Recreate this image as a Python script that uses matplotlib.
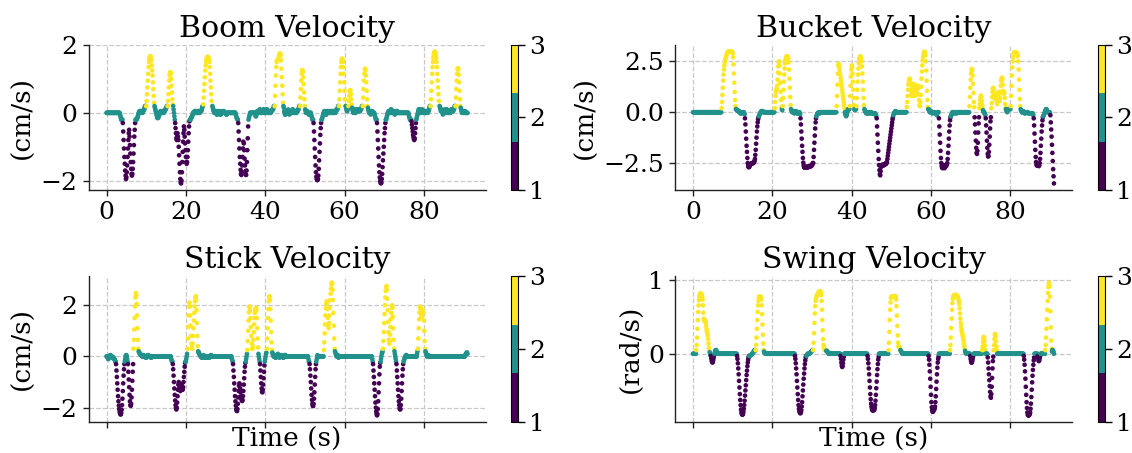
import numpy as np
import matplotlib
matplotlib.use("Agg")
import matplotlib.pyplot as plt

plt.rcParams['font.family'] = ['DejaVu Serif']

N_SAMPLES = 911          # 0.0 .. 91.0 s
DT = 0.1
time_s = np.round(np.arange(N_SAMPLES) * DT, 1)

# ---------------- Boom velocity (cm/s) ----------------
boom_start = [3.4, 4.1, 7.3, 10.0, 12.1, 15.4, 16.8, 17.3, 21.0, 24.4, 26.7, 32.6, 33.2, 35.8,
              37.5, 42.4, 44.6, 48.8, 50.1, 51.6, 52.2, 54.2, 58.6, 60.3, 61.0, 61.9, 64.6, 65.9,
              67.6, 68.2, 70.4, 76.2, 76.9, 78.1, 81.7, 84.0, 88.0, 89.3]
boom_class = [2, 1, 2, 3, 2, 3, 2, 1, 2, 3, 2, 2, 1, 2,
              2, 3, 2, 3, 2, 2, 1, 2, 3, 2, 3, 2, 3, 2,
              2, 1, 2, 2, 1, 2, 3, 2, 3, 2]
boom_vals = [
    [-0.05, -0.1, -0.15, -0.2, -0.2, -0.2, -0.2],
    [-0.3, -0.55, -0.8, -1.05, -1.3, -1.5, -1.7, -1.85, -1.95, -1.9, -1.75, -1.55, -1.3, -1.05, -0.8, -0.6,
     -0.5, -0.7, -0.95, -1.2, -1.45, -1.65, -1.8, -1.85, -1.8, -1.65, -1.45, -1.2, -0.95, -0.7, -0.5, -0.3],
    [-0.2, -0.2, -0.2, -0.2, -0.15, -0.15, -0.1, -0.05, 0.0, 0.0, 0.05, 0.05, 0.05, 0.0, 0.0, 0.05, 0.05,
     0.05, 0.0, 0.05, 0.05, 0.1, 0.1, 0.15, 0.2, 0.2, 0.2],
    [0.2, 0.35, 0.55, 0.75, 0.95, 1.15, 1.35, 1.5, 1.6, 1.65, 1.67, 1.67, 1.65, 1.55, 1.4, 1.25, 1.1, 0.9,
     0.7, 0.5, 0.3],
    [0.2, 0.15, 0.1, 0.05, 0.0, -0.05, -0.1, -0.15, -0.15, -0.15, -0.1, -0.1, -0.05, 0.0, 0.0, 0.05, 0.05,
     0.0, 0.0, 0.0, 0.05, 0.05, 0.0, 0.0, 0.05, 0.05, 0.05, 0.1, 0.1, 0.15, 0.15, 0.2, 0.2],
    [0.2, 0.35, 0.55, 0.75, 0.95, 1.1, 1.18, 1.2, 1.15, 1.0, 0.8, 0.6, 0.4, 0.25],
    [0.2, 0.1, 0.0, -0.1, -0.2],
    [-0.3, -0.45, -0.6, -0.75, -0.8, -0.7, -0.6, -0.7, -0.8, -1.0, -1.25, -1.5, -1.75, -1.95, -2.05, -2.08,
     -2.0, -1.75, -1.45, -1.15, -0.85, -0.6, -0.4, -0.5, -0.7, -0.9, -1.1, -1.3, -1.45, -1.5, -1.45, -1.3,
     -1.1, -0.85, -0.6, -0.4, -0.25],
    [-0.2, -0.2, -0.2, -0.15, -0.15, -0.1, -0.1, -0.05, 0.0, 0.0, 0.0, 0.0, 0.05, 0.05, 0.05, 0.0, 0.0,
     0.05, 0.05, 0.0, 0.0, 0.05, 0.05, 0.05, 0.0, 0.0, 0.05, 0.05, 0.05, 0.05, 0.1, 0.15, 0.2, 0.2],
    [0.25, 0.45, 0.65, 0.85, 1.05, 1.25, 1.4, 1.5, 1.58, 1.62, 1.65, 1.65, 1.64, 1.62, 1.58, 1.5, 1.35,
     1.15, 0.95, 0.75, 0.55, 0.35, 0.2],
    [0.2, 0.15, 0.1, 0.05, 0.05, 0.0, 0.0, 0.05, 0.05, 0.05, 0.0, -0.05, -0.05, 0.0, 0.0, 0.0, 0.05, 0.05,
     0.0, 0.0, -0.05, -0.05, 0.0, 0.0, 0.05, 0.0, 0.0, 0.0, 0.05, 0.05, 0.0, 0.0, 0.0, 0.0, 0.0, -0.05,
     -0.05, 0.0, 0.0],
    [-0.05, -0.1, -0.15, -0.15, -0.2, -0.2],
    [-0.3, -0.55, -0.8, -1.05, -1.3, -1.5, -1.68, -1.8, -1.83, -1.75, -1.55, -1.3, -1.05, -0.85, -0.9, -1.1,
     -1.35, -1.55, -1.72, -1.82, -1.83, -1.7, -1.45, -1.1, -0.75, -0.4],
    [-0.2, -0.15, -0.1, -0.05, 0.0],
    [-0.05, -0.1, -0.1, -0.05, 0.0, 0.05, 0.05, 0.05, 0.0, 0.0, 0.05, 0.1, 0.1, 0.05, 0.0, 0.0, 0.0, 0.05,
     0.05, 0.05, 0.1, 0.1, 0.05, 0.0, 0.0, 0.0, 0.0, 0.05, 0.05, 0.1, 0.1, 0.05, 0.05, 0.0, 0.0, 0.05,
     0.05, 0.05, 0.0, 0.0, 0.05, 0.05, 0.05, 0.1, 0.1, 0.1, 0.15, 0.2, 0.2],
    [0.2, 0.5, 0.8, 1.1, 1.35, 1.5, 1.55, 1.55, 1.55, 1.58, 1.62, 1.68, 1.72, 1.75, 1.75, 1.7, 1.55, 1.3,
     1.05, 0.8, 0.55, 0.3],
    [0.2, 0.15, 0.05, 0.0, -0.05, -0.05, 0.0, 0.05, 0.05, 0.0, 0.0, 0.05, 0.1, 0.05, 0.0, -0.05, 0.0, 0.05,
     0.05, 0.05, 0.0, 0.0, 0.05, 0.1, 0.1, 0.05, 0.05, 0.0, 0.0, 0.05, 0.05, 0.05, 0.0, 0.0, 0.05, 0.05,
     0.05, 0.1, 0.1, 0.15, 0.2, 0.2],
    [0.2, 0.45, 0.7, 0.95, 1.15, 1.25, 1.26, 1.2, 1.05, 0.85, 0.6, 0.4, 0.2],
    [0.1, 0.05, 0.0, 0.0, 0.05, 0.05, 0.0, 0.0, 0.0, -0.05, -0.05, 0.0, 0.0, 0.0, 0.0],
    [-0.05, -0.1, -0.15, -0.2, -0.2, -0.2],
    [-0.3, -0.55, -0.8, -1.05, -1.3, -1.55, -1.75, -1.88, -1.95, -1.98, -1.98, -1.95, -1.85, -1.65, -1.4,
     -1.15, -0.9, -0.65, -0.45, -0.3],
    [-0.2, -0.2, -0.15, -0.1, -0.05, 0.0, 0.0, 0.05, 0.05, 0.0, 0.0, -0.05, -0.05, 0.0, 0.0, 0.05, 0.05,
     0.05, 0.0, 0.0, 0.0, 0.05, 0.05, 0.05, 0.0, 0.0, 0.05, 0.05, 0.0, 0.0, 0.0, 0.05, 0.05, 0.05, 0.0,
     0.0, 0.05, 0.05, 0.1, 0.1, 0.1, 0.15, 0.2, 0.2],
    [0.2, 0.4, 0.65, 0.9, 1.15, 1.35, 1.5, 1.58, 1.6, 1.58, 1.5, 1.35, 1.15, 0.9, 0.65, 0.4, 0.2],
    [0.2, 0.15, 0.1, 0.05, 0.05, 0.1, 0.15],
    [0.2, 0.35, 0.5, 0.62, 0.67, 0.65, 0.55, 0.4, 0.25],
    [0.15, 0.1, 0.05, 0.0, 0.05, 0.1, 0.1, 0.05, 0.0, 0.0, 0.05, 0.1, 0.1, 0.05, 0.05, 0.05, 0.1, 0.1,
     0.05, 0.05, 0.05, 0.1, 0.1, 0.1, 0.15, 0.2, 0.2],
    [0.2, 0.45, 0.7, 0.95, 1.15, 1.28, 1.3, 1.25, 1.1, 0.9, 0.65, 0.4, 0.2],
    [0.15, 0.1, 0.05, 0.0, 0.0, 0.05, 0.0, -0.05, 0.0, 0.0, 0.05, 0.05, 0.0, 0.0, 0.0, 0.0, 0.0],
    [-0.05, -0.1, -0.15, -0.2, -0.2, -0.2],
    [-0.3, -0.55, -0.8, -1.05, -1.3, -1.55, -1.75, -1.9, -2.0, -2.06, -2.08, -2.05, -1.95, -1.8, -1.6,
     -1.4, -1.2, -1.0, -0.8, -0.6, -0.45, -0.3],
    [-0.2, -0.2, -0.15, -0.1, -0.05, 0.0, 0.0, 0.05, 0.05, 0.0, 0.0, 0.0, 0.05, 0.1, 0.1, 0.05, 0.0, 0.0,
     0.0, 0.05, 0.05, 0.0, 0.0, -0.05, 0.0, 0.0, 0.0, 0.05, 0.05, 0.05, 0.0, 0.0, 0.0, 0.0, 0.0, 0.0],
    [-0.05, -0.1, -0.15, -0.2, -0.2, -0.2, -0.2],
    [-0.25, -0.35, -0.45, -0.55, -0.65, -0.72, -0.78, -0.8, -0.75, -0.6, -0.45, -0.3],
    [-0.2, -0.15, -0.1, -0.05, 0.0, 0.05, 0.1, 0.1, 0.1, 0.05, 0.0, 0.0, 0.05, 0.05, 0.1, 0.1, 0.05,
     0.05, 0.0, 0.0, 0.05, 0.05, 0.05, 0.0, 0.0, 0.05, 0.05, 0.05, 0.0, 0.0, 0.05, 0.05, 0.1, 0.15, 0.2,
     0.2],
    [0.2, 0.4, 0.65, 0.9, 1.15, 1.35, 1.5, 1.62, 1.7, 1.76, 1.8, 1.8, 1.78, 1.72, 1.62, 1.5, 1.35, 1.15,
     0.95, 0.75, 0.55, 0.35, 0.2],
    [0.2, 0.15, 0.1, 0.05, 0.05, 0.1, 0.05, 0.0, -0.05, 0.0, 0.05, 0.05, 0.1, 0.05, 0.0, 0.0, 0.05, 0.1,
     0.1, 0.05, 0.05, 0.0, 0.0, 0.05, 0.05, 0.05, 0.0, 0.0, 0.05, 0.1, 0.1, 0.05, 0.05, 0.05, 0.05, 0.1,
     0.1, 0.15, 0.2, 0.2],
    [0.2, 0.45, 0.7, 0.95, 1.15, 1.28, 1.32, 1.28, 1.12, 0.9, 0.65, 0.4, 0.2],
    [0.15, 0.1, 0.05, 0.0, 0.0, 0.05, 0.05, 0.0, 0.0, 0.0, 0.05, 0.05, 0.0, 0.0, 0.0, 0.0, 0.0, 0.0],
]

# ---------------- Bucket velocity (cm/s) ----------------
bucket_start = [7.2, 10.8, 13.1, 16.6, 20.6, 22.4, 22.6, 24.7, 27.1, 31.1, 36.2, 38.3, 39.5, 40.7,
                41.2, 43.2, 46.3, 50.5, 53.9, 59.3, 62.0, 65.0, 69.7, 71.0, 72.2, 73.1, 73.8, 75.2,
                78.9, 80.1, 82.6, 85.9, 88.3, 90.1]
bucket_class = [3, 2, 1, 2, 3, 2, 3, 2, 1, 2, 3, 2, 3, 2,
                3, 2, 1, 2, 3, 2, 1, 2, 3, 1, 3, 2, 1, 3,
                2, 3, 2, 1, 2, 1]
bucket_vals = [
    [0.2, 0.5, 0.85, 1.2, 1.55, 1.85, 2.1, 2.3, 2.45, 2.55, 2.62, 2.7, 2.78, 2.85, 2.9, 2.94, 2.96, 2.97,
     2.98, 2.98, 2.98, 2.98, 2.97, 2.97, 2.97, 2.97, 2.97, 2.95, 2.9, 2.7, 2.35, 1.9, 1.45, 1.0, 0.6, 0.3],
    [0.15, 0.15, 0.1, 0.1, 0.1, 0.1, 0.05, 0.05, 0.05, 0.0, 0.0, -0.05, -0.05, -0.05, -0.05, -0.05, 0.0,
     0.0, 0.0, 0.0, 0.0, -0.05, -0.1],
    [-0.3, -0.6, -0.95, -1.3, -1.65, -1.95, -2.25, -2.5, -2.65, -2.7, -2.7, -2.68, -2.62, -2.58, -2.55,
     -2.55, -2.52, -2.52, -2.5, -2.5, -2.5, -2.5, -2.48, -2.45, -2.4, -2.3, -2.1, -1.85, -1.55, -1.25,
     -0.95, -0.7, -0.5, -0.35, -0.25],
    [-0.2, -0.15, -0.1, -0.05, 0.0, 0.0, 0.05, 0.05, 0.05, 0.05, 0.05, 0.0],
    [0.2, 0.5, 0.8, 1.0, 1.1, 1.15, 1.3, 1.6, 1.95, 2.25, 2.45, 2.5, 2.3, 1.9, 1.45, 1.0, 0.6, 0.25],
    [0.15, 0.1],
    [0.3, 0.7, 1.1, 1.5, 1.85, 2.15, 2.4, 2.55, 2.65, 2.7, 2.75, 2.75, 2.75, 2.72, 2.65, 2.45, 2.1, 1.65,
     1.2, 0.75, 0.35],
    [0.15, 0.1, 0.05, 0.0, 0.0, 0.05, 0.05, 0.0, -0.05, -0.05, 0.0, 0.0, 0.05, 0.05, 0.0, -0.05, -0.05,
     -0.05, -0.05, -0.05, 0.0, 0.0, -0.05, -0.1],
    [-0.3, -0.6, -0.95, -1.3, -1.65, -1.95, -2.25, -2.48, -2.62, -2.7, -2.72, -2.72, -2.7, -2.7, -2.68,
     -2.68, -2.7, -2.72, -2.72, -2.7, -2.68, -2.66, -2.65, -2.65, -2.65, -2.65, -2.65, -2.65, -2.62, -2.6,
     -2.55, -2.5, -2.5, -2.2, -1.85, -1.5, -1.15, -0.8, -0.5, -0.3],
    [-0.2, -0.15, -0.1, -0.05, -0.05, -0.05, 0.0, 0.0, -0.05, -0.05],
    [0.3, 0.8, 1.35, 1.9, 2.3, 2.38, 2.3, 2.15, 2.0, 1.85, 1.7, 1.55, 1.4, 1.25, 1.1, 0.95, 0.8, 0.65,
     0.5, 0.35, 0.2],
    [0.0, -0.1, -0.15, -0.2, -0.15, -0.1, 0.0, 0.1, 0.15, 0.15, 0.15, 0.15],
    [0.3, 0.8, 1.3, 1.75, 2.1, 2.3, 2.2, 1.9, 1.5, 1.1, 0.7, 0.35],
    [0.15, 0.1, 0.15, 0.15, 0.15],
    [0.3, 0.7, 1.1, 1.5, 1.85, 2.15, 2.4, 2.58, 2.68, 2.73, 2.74, 2.72, 2.65, 2.5, 2.25, 1.9, 1.5, 1.1,
     0.7, 0.35],
    [0.15, 0.1, 0.05, 0.0, 0.0, -0.05, -0.05, -0.05, -0.05, -0.05, 0.0, 0.0, -0.05, -0.05, -0.05, 0.0,
     0.0, 0.0, -0.05, -0.05, -0.05, -0.05, -0.05, -0.05, -0.05, -0.05, -0.05, -0.05, -0.1, -0.15, -0.2],
    [-0.3, -0.7, -1.1, -1.5, -1.9, -2.3, -2.6, -2.85, -3.05, -3.1, -2.9, -2.7, -2.62, -2.6, -2.6, -2.58,
     -2.6, -2.62, -2.6, -2.58, -2.55, -2.55, -2.55, -2.55, -2.5, -2.5, -2.45, -2.3, -2.15, -2.0, -1.85,
     -1.7, -1.55, -1.4, -1.25, -1.1, -0.95, -0.8, -0.65, -0.5, -0.35, -0.25],
    [-0.15, -0.1, -0.05, 0.0, 0.0, 0.05, 0.05, 0.0, 0.0, 0.0],
    [0.25, 0.5, 0.8, 1.1, 1.35, 1.5, 1.6, 1.65, 1.6, 1.4, 1.1, 0.85, 0.8, 1.0, 1.25, 1.4, 1.35, 1.1,
     0.85, 0.8, 1.0, 1.25, 1.35, 1.3, 1.1, 0.85, 0.9, 1.15, 1.3, 1.2, 0.9, 0.6, 0.35, 0.3, 0.5, 0.85,
     1.25, 1.65, 2.0, 2.3, 2.55, 2.72, 2.85, 2.93, 2.97, 2.97, 2.93, 2.8, 2.5, 2.05, 1.55, 1.05, 0.6,
     0.25],
    [0.15, 0.15, 0.1, 0.05, 0.0, 0.0, 0.05, 0.05, 0.0, 0.0, -0.05, -0.05, 0.0, 0.0, 0.0, 0.0, 0.0, -0.05,
     -0.05, -0.05, -0.05, -0.1, -0.15],
    [-0.3, -0.7, -1.1, -1.5, -1.9, -2.25, -2.5, -2.65, -2.72, -2.75, -2.7, -2.62, -2.6, -2.7, -2.75, -2.7,
     -2.62, -2.6, -2.65, -2.6, -2.55, -2.5, -2.3, -2.0, -1.65, -1.3, -0.95, -0.65, -0.4, -0.25],
    [-0.2, -0.15, -0.1, -0.05, 0.0, 0.0, 0.0, -0.05, -0.05, -0.05, 0.0, 0.0, 0.0, -0.05, -0.05, -0.05],
    [0.3, 0.75, 1.2, 1.6, 1.9, 2.08, 2.13, 2.05, 1.8, 1.4, 0.95, 0.5, 0.25],
    [-0.25, -0.6, -1.0, -1.4, -1.75, -2.0, -2.05, -1.9, -1.5, -1.0, -0.55, -0.25],
    [0.2, 0.4, 0.6, 0.75, 0.82, 0.75, 0.55, 0.35, 0.2],
    [0.1, 0.05, 0.0, 0.0, -0.05, -0.1, -0.15],
    [-0.3, -0.65, -1.0, -1.4, -1.75, -2.05, -2.18, -2.15, -1.95, -1.6, -1.2, -0.8, -0.45, -0.25],
    [0.2, 0.45, 0.75, 1.0, 1.15, 1.2, 1.1, 0.9, 0.7, 0.65, 0.8, 0.9, 0.85, 0.7, 0.5, 0.4, 0.55, 0.8,
     1.0, 0.9, 0.7, 0.55, 0.7, 1.0, 1.3, 1.55, 1.68, 1.7, 1.6, 1.35, 1.05, 0.9, 1.0, 0.95, 0.7, 0.4, 0.2],
    [0.15, 0.1, 0.05, 0.0, 0.05, 0.1, 0.15, 0.15, 0.15, 0.15, 0.15, 0.15],
    [0.3, 0.8, 1.3, 1.8, 2.2, 2.5, 2.7, 2.82, 2.9, 2.93, 2.95, 2.95, 2.95, 2.93, 2.92, 2.9, 2.88, 2.85,
     2.75, 2.5, 2.1, 1.6, 1.1, 0.65, 0.3],
    [0.15, 0.1, 0.05, 0.0, 0.0, 0.0, 0.05, 0.05, 0.0, 0.0, -0.05, -0.05, -0.05, 0.0, 0.0, 0.0, 0.0, 0.0,
     0.0, -0.05, -0.05, -0.05, -0.05, -0.05, -0.05, -0.05, -0.05, -0.05, -0.05, -0.05, -0.05, -0.1, -0.15],
    [-0.3, -0.65, -1.05, -1.45, -1.85, -2.2, -2.45, -2.58, -2.62, -2.62, -2.6, -2.6, -2.62, -2.65, -2.6,
     -2.5, -2.3, -2.0, -1.65, -1.3, -0.95, -0.65, -0.4, -0.25],
    [-0.2, -0.15, -0.1, -0.05, 0.0, 0.05, 0.1, 0.15, 0.15, 0.1, 0.05, 0.0, 0.0, 0.0, 0.0, 0.0, 0.0, -0.05],
    [-0.15, -0.5, -0.85, -1.2, -1.6, -2.0, -2.4, -2.8, -3.15, -3.5],
]

# ---------------- Stick velocity (cm/s) ----------------
stick_start = [0.3, 2.4, 4.6, 5.4, 6.8, 8.1, 16.3, 16.7, 19.9, 20.4, 23.1, 31.6, 31.9, 35.1, 35.5,
               38.3, 38.7, 39.9, 40.4, 41.8, 50.9, 51.2, 52.9, 54.8, 57.6, 67.0, 67.2, 69.1, 69.7,
               72.6, 73.1, 74.9, 78.3, 78.5, 80.4, 90.4]
stick_class = [2, 1, 2, 1, 3, 2, 2, 1, 2, 3, 2, 2, 1, 2, 3,
               2, 1, 2, 3, 2, 2, 1, 2, 3, 2, 2, 1, 2, 3,
               2, 1, 2, 2, 3, 2, 2]
stick_vals = [
    [-0.05, -0.1, -0.1, -0.05, 0.0, 0.0, 0.05, 0.05, 0.0, 0.0, 0.0, 0.0, -0.05, -0.05, -0.05, -0.05,
     -0.1, -0.1, -0.15, -0.2, -0.2],
    [-0.3, -0.55, -0.8, -1.05, -1.3, -1.55, -1.75, -1.92, -2.05, -2.15, -2.22, -2.26, -2.26, -2.2, -2.08,
     -1.9, -1.65, -1.35, -1.05, -0.75, -0.5, -0.3],
    [-0.2, -0.1, 0.0, 0.05, 0.05, 0.0, -0.1, -0.2],
    [-0.3, -0.6, -0.9, -1.2, -1.5, -1.75, -1.9, -1.93, -1.85, -1.6, -1.3, -0.95, -0.6, -0.3],
    [0.3, 0.65, 1.05, 1.5, 1.95, 2.3, 2.47, 2.4, 2.05, 1.6, 1.1, 0.65, 0.3],
    [0.2, 0.15, 0.15, 0.1, 0.1, 0.05, 0.05, 0.05, 0.05, 0.0, 0.0, 0.0, 0.05, 0.05, 0.0, 0.0, 0.0, 0.0,
     -0.05, -0.05, 0.0, 0.0, 0.0, 0.05, 0.05, 0.0, 0.0, 0.0, 0.0, 0.0, 0.0, -0.05, -0.05, 0.0, 0.0],
    [-0.1, -0.15, -0.2, -0.2],
    [-0.3, -0.5, -0.75, -1.0, -1.25, -1.5, -1.72, -1.9, -2.02, -2.07, -2.0, -1.8, -1.55, -1.3, -1.1, -1.0,
     -1.05, -1.2, -1.3, -1.35, -1.3, -1.2, -1.1, -1.15, -1.25, -1.3, -1.2, -1.0, -0.8, -0.6, -0.4, -0.25],
    [-0.2, -0.2, -0.1, 0.0, 0.1],
    [0.3, 0.7, 1.15, 1.6, 1.95, 2.1, 1.95, 1.6, 1.2, 0.8, 0.5, 0.35, 0.3, 0.5, 0.8, 1.1, 1.4, 1.7, 1.95,
     2.15, 2.3, 2.35, 2.2, 1.8, 1.3, 0.8, 0.4],
    [0.2, 0.15, 0.15, 0.1, 0.05, 0.05, 0.0, 0.0, 0.0, -0.05, -0.05, 0.0, 0.0, 0.0, 0.05, 0.0, 0.0, -0.05,
     -0.05, -0.05, 0.0, 0.0, 0.0, 0.0, 0.0, -0.05, -0.05, -0.05, -0.05, 0.0, 0.0, 0.0, 0.05, 0.05, 0.0,
     0.0],
    [-0.1, -0.15, -0.2],
    [-0.3, -0.55, -0.8, -1.05, -1.3, -1.55, -1.75, -1.92, -2.05, -2.12, -2.13, -2.05, -1.85, -1.6, -1.35,
     -1.15, -1.05, -1.1, -1.25, -1.4, -1.55, -1.65, -1.72, -1.74, -1.7, -1.55, -1.35, -1.1, -0.85, -0.6,
     -0.4, -0.25],
    [-0.2, -0.1, 0.0, 0.1],
    [0.25, 0.6, 1.0, 1.4, 1.72, 1.92, 1.95, 1.8, 1.5, 1.15, 0.8, 0.5, 0.3, 0.3, 0.4, 0.65, 0.95, 1.25,
     1.5, 1.7, 1.82, 1.88, 1.9, 1.8, 1.5, 1.1, 0.7, 0.35],
    [0.1, 0.0, -0.1, -0.2],
    [-0.3, -0.55, -0.8, -1.05, -1.25, -1.38, -1.4, -1.3, -1.1, -0.85, -0.6, -0.35],
    [-0.2, -0.1, 0.0, 0.1, 0.15],
    [0.3, 0.7, 1.1, 1.5, 1.85, 2.15, 2.32, 2.35, 2.2, 1.85, 1.4, 0.95, 0.55, 0.25],
    [0.15, 0.1, 0.05, 0.0, 0.0, 0.05, 0.05, 0.0, -0.05, -0.05, 0.0, 0.0, 0.0, 0.05, 0.1, 0.05, 0.0, 0.0,
     -0.05, 0.0, 0.0, 0.0, 0.05, 0.05, 0.0, 0.0, 0.0, -0.05, -0.05, 0.0, 0.0, 0.05, 0.05, 0.05, 0.0, 0.0],
    [-0.1, -0.2, -0.2],
    [-0.3, -0.5, -0.75, -1.0, -1.25, -1.5, -1.7, -1.85, -1.93, -1.93, -1.85, -1.65, -1.4, -1.1, -0.8, -0.5,
     -0.3],
    [-0.2, -0.1, 0.0, 0.05],
    [0.25, 0.55, 0.9, 1.25, 1.6, 1.88, 2.05, 2.15, 2.1, 1.85, 1.5, 1.2, 1.1, 1.3, 1.6, 1.9, 2.2, 2.45,
     2.65, 2.8, 2.88, 2.85, 2.6, 2.2, 1.7, 1.2, 0.7, 0.3],
    [0.2, 0.15, 0.1, 0.05, 0.0, 0.0, 0.05, 0.05, 0.0, -0.05, 0.0, 0.0],
    [-0.1, -0.2],
    [-0.3, -0.55, -0.8, -1.05, -1.3, -1.55, -1.8, -2.0, -2.15, -2.25, -2.3, -2.25, -2.05, -1.75, -1.4,
     -1.05, -0.7, -0.4, -0.25],
    [-0.2, -0.1, 0.0, 0.1, 0.15, 0.2],
    [0.3, 0.6, 0.95, 1.3, 1.65, 2.0, 2.3, 2.55, 2.7, 2.75, 2.6, 2.25, 1.8, 1.35, 0.95, 0.65, 0.5, 0.6,
     0.85, 1.15, 1.45, 1.7, 1.9, 2.0, 1.9, 1.55, 1.1, 0.65, 0.3],
    [0.2, 0.1, 0.0, -0.1, -0.2],
    [-0.3, -0.55, -0.8, -1.05, -1.3, -1.55, -1.75, -1.9, -2.02, -2.07, -2.05, -1.9, -1.65, -1.35, -1.05,
     -0.75, -0.5, -0.3],
    [-0.2, -0.15, -0.1, -0.05, 0.0, 0.0, 0.05, 0.05, 0.0, 0.0],
    [0.1, 0.2],
    [0.3, 0.7, 1.1, 1.45, 1.72, 1.9, 1.95, 1.9, 1.75, 1.6, 1.55, 1.65, 1.75, 1.8, 1.7, 1.4, 1.0, 0.6, 0.3],
    [0.2, 0.15, 0.1, 0.05, 0.0, 0.0, 0.05, 0.05, 0.0, 0.0],
    [0.05, 0.05, 0.1, 0.1, 0.15, 0.15, 0.1],
]

# ---------------- Swing velocity (rad/s) ----------------
swing_start = [0.8, 4.2, 4.5, 5.4, 11.1, 14.2, 15.8, 17.9, 25.7, 28.6, 30.3, 33.6, 37.2, 44.0, 49.3,
               52.3, 59.4, 64.8, 68.6, 69.9, 72.9, 74.3, 75.8, 83.4, 86.9, 88.8, 90.5]
swing_class = [3, 2, 1, 2, 1, 2, 3, 2, 1, 2, 3, 2, 1, 1, 3,
               2, 1, 3, 2, 1, 3, 1, 3, 1, 1, 3, 2]
swing_vals = [
    [0.05, 0.12, 0.22, 0.34, 0.46, 0.57, 0.66, 0.73, 0.78, 0.81, 0.82, 0.82, 0.82, 0.81, 0.8, 0.78, 0.74,
     0.66, 0.56, 0.48, 0.45, 0.46, 0.46, 0.45, 0.42, 0.38, 0.33, 0.3, 0.28, 0.25, 0.2, 0.14, 0.08, 0.04],
    [0.02, 0.0, -0.02],
    [-0.03, -0.06, -0.09, -0.11, -0.12, -0.11, -0.08, -0.05, -0.02],
    [0.0, 0.02, 0.04, 0.05, 0.05, 0.04, 0.02, 0.0],
    [-0.03, -0.07, -0.13, -0.2, -0.28, -0.37, -0.46, -0.55, -0.63, -0.7, -0.76, -0.8, -0.82, -0.83, -0.83,
     -0.82, -0.79, -0.75, -0.7, -0.64, -0.57, -0.5, -0.43, -0.36, -0.29, -0.23, -0.17, -0.12, -0.08,
     -0.05, -0.03],
    [-0.03, -0.03, -0.02, -0.02, -0.02, -0.01, -0.01, 0.0, 0.0, 0.01, 0.02, 0.03, 0.04, 0.05, 0.05, 0.04],
    [0.05, 0.12, 0.22, 0.34, 0.46, 0.57, 0.66, 0.72, 0.76, 0.78, 0.78, 0.78, 0.78, 0.77, 0.74, 0.66, 0.54,
     0.4, 0.26, 0.14, 0.05],
    [0.03, 0.02, 0.01],
    [-0.03, -0.07, -0.13, -0.2, -0.28, -0.37, -0.46, -0.55, -0.63, -0.7, -0.75, -0.78, -0.8, -0.81, -0.81,
     -0.8, -0.77, -0.72, -0.66, -0.58, -0.5, -0.42, -0.34, -0.27, -0.2, -0.14, -0.09, -0.05, -0.03],
    [-0.03, -0.02, -0.01, 0.0, 0.0, 0.0, 0.0, 0.0, 0.01, 0.01, 0.02, 0.02, 0.03, 0.03, 0.04, 0.05, 0.05],
    [0.05, 0.15, 0.28, 0.42, 0.55, 0.65, 0.72, 0.76, 0.78, 0.79, 0.8, 0.81, 0.82, 0.83, 0.84, 0.85, 0.85,
     0.85, 0.85, 0.84, 0.8, 0.72, 0.6, 0.46, 0.32, 0.2, 0.12, 0.08, 0.06, 0.05, 0.05, 0.05, 0.05],
    [0.04, 0.04, 0.03, 0.03, 0.02, 0.01],
    [-0.03, -0.07, -0.12, -0.16, -0.18, -0.17, -0.13, -0.08, -0.04],
    [-0.03, -0.07, -0.13, -0.2, -0.28, -0.37, -0.46, -0.55, -0.62, -0.68, -0.72, -0.75, -0.77, -0.77,
     -0.77, -0.77, -0.77, -0.76, -0.74, -0.7, -0.64, -0.56, -0.47, -0.38, -0.29, -0.21, -0.14, -0.08,
     -0.04],
    [0.05, 0.15, 0.3, 0.46, 0.6, 0.7, 0.76, 0.78, 0.78, 0.78, 0.78, 0.78, 0.78, 0.78, 0.78, 0.78, 0.78,
     0.78, 0.78, 0.74, 0.65, 0.52, 0.38, 0.25, 0.15, 0.1, 0.1, 0.09, 0.08, 0.06],
    [0.05, 0.04, 0.03, 0.02, 0.01],
    [-0.03, -0.08, -0.15, -0.24, -0.34, -0.45, -0.56, -0.66, -0.73, -0.77, -0.79, -0.79, -0.78, -0.76,
     -0.76, -0.75, -0.72, -0.66, -0.58, -0.48, -0.38, -0.28, -0.19, -0.12, -0.07, -0.04],
    [0.05, 0.12, 0.22, 0.35, 0.48, 0.6, 0.69, 0.75, 0.78, 0.79, 0.8, 0.8, 0.8, 0.8, 0.8, 0.8, 0.8, 0.79,
     0.79, 0.78, 0.77, 0.75, 0.72, 0.68, 0.62, 0.55, 0.48, 0.42, 0.37, 0.33, 0.3, 0.27, 0.24, 0.21, 0.18,
     0.14, 0.1, 0.06],
    [0.04, 0.02, 0.01, 0.0],
    [-0.03, -0.07, -0.1, -0.12, -0.12, -0.1, -0.07, -0.04],
    [0.05, 0.1, 0.16, 0.21, 0.23, 0.22, 0.17, 0.11, 0.05],
    [-0.05, -0.12, -0.2, -0.28, -0.36, -0.44, -0.52, -0.58, -0.6, -0.55, -0.45, -0.33, -0.2, -0.1, -0.04],
    [0.05, 0.12, 0.2, 0.26, 0.27, 0.24, 0.17, 0.1, 0.05],
    [-0.03, -0.08, -0.15, -0.24, -0.34, -0.45, -0.56, -0.66, -0.74, -0.8, -0.83, -0.84, -0.84, -0.84,
     -0.83, -0.82, -0.8, -0.75, -0.68, -0.59, -0.49, -0.39, -0.3, -0.22, -0.15, -0.09, -0.05],
    [-0.03, -0.06, -0.09, -0.1, -0.09, -0.06, -0.03],
    [0.05, 0.12, 0.22, 0.34, 0.47, 0.6, 0.72, 0.83, 0.91, 0.96, 0.97, 0.92, 0.78, 0.58, 0.36, 0.18, 0.07],
    [0.03, 0.05, 0.05, 0.04, 0.02, 0.0],
]

titles = ["Boom Velocity", "Bucket Velocity", "Stick Velocity", "Swing Velocity"]
units = ["(cm/s)", "(cm/s)", "(cm/s)", "(rad/s)"]
x_ticks = [0, 20, 40, 60, 80]
y_ticks = [[-2, 0, 2], [-2.5, 0.0, 2.5], [-2, 0, 2], [0, 1]]
class_ticks = [1, 2, 3]


def assemble(starts, classes, vals):
    v = np.zeros(N_SAMPLES)
    c = np.full(N_SAMPLES, 2)
    for s, k, seg in zip(starts, classes, vals):
        i0 = int(round(s / DT))
        seg = np.asarray(seg, dtype=float)
        n = min(len(seg), N_SAMPLES - i0)
        v[i0:i0 + n] = seg[:n]
        c[i0:i0 + n] = k
    return v, c


series = [assemble(boom_start, boom_class, boom_vals),
          assemble(bucket_start, bucket_class, bucket_vals),
          assemble(stick_start, stick_class, stick_vals),
          assemble(swing_start, swing_class, swing_vals)]

W, H = 1132, 453
fig = plt.figure(figsize=(W / 100, H / 100), dpi=100)


def px_axes(x0, y0, x1, y1):
    return fig.add_axes([x0 / W, 1 - y1 / H, (x1 - x0) / W, (y1 - y0) / H])


ax_boxes = [(88.5, 45, 485.5, 190), (675, 45, 1072, 190),
            (88.5, 276, 485.5, 422), (675, 276, 1072, 422)]
cb_boxes = [(511, 45, 517.5, 190), (1098, 45, 1104.5, 190),
            (511, 276, 517.5, 422), (1098, 276, 1104.5, 422)]

cmap3 = plt.get_cmap('viridis', 3)

for k in range(4):
    ax = px_axes(*ax_boxes[k])
    cax = px_axes(*cb_boxes[k])
    v, c = series[k]
    sc = ax.scatter(time_s, v, c=c, cmap=cmap3, vmin=1, vmax=3, s=11, linewidths=0, zorder=3)
    ax.grid(True, linestyle='--', color='#c8c8c8', linewidth=0.9)
    ax.set_axisbelow(True)
    for side in ('top', 'right'):
        ax.spines[side].set_visible(False)
    for side in ('left', 'bottom'):
        ax.spines[side].set_color('#222222')
        ax.spines[side].set_linewidth(1.0)
    ax.set_xticks(x_ticks)
    ax.set_yticks(y_ticks[k])
    ax.tick_params(axis='both', labelsize=18, length=4.5, width=1, colors='#222222', labelcolor='black')
    ax.set_title(titles[k], fontsize=21.6, pad=6)
    ax.set_ylabel(units[k], fontsize=19)
    if k >= 2:
        ax.tick_params(axis='x', labelbottom=False)
        ax.set_xlabel("Time (s)", fontsize=19, labelpad=-1)
    cb = fig.colorbar(sc, cax=cax, ticks=class_ticks)
    cb.ax.tick_params(labelsize=18, length=5, width=1)
    cb.outline.set_linewidth(0.8)

fig.savefig("out.png", dpi=100)
